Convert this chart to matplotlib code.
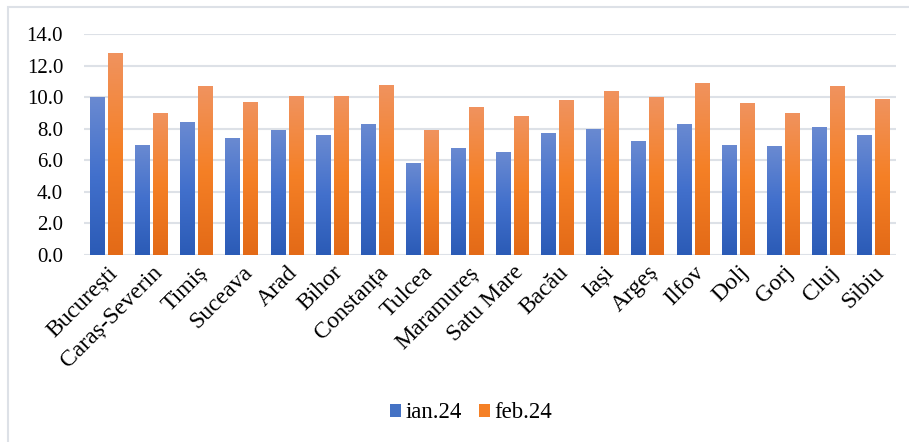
import numpy as np
import matplotlib
matplotlib.use("Agg")
from matplotlib import pyplot as plt
from matplotlib.colors import LinearSegmentedColormap
from matplotlib.patches import Rectangle

counties = ["București", "Caraș-Severin", "Timiș", "Suceava", "Arad", "Bihor",
            "Constanța", "Tulcea", "Maramureș", "Satu Mare", "Bacău", "Iași",
            "Argeș", "Ilfov", "Dolj", "Gorj", "Cluj", "Sibiu"]
ian24 = [10.0, 7.0, 8.4, 7.4, 7.9, 7.6, 8.3, 5.8, 6.8, 6.5, 7.7, 8.0, 7.2, 8.3, 7.0, 6.9, 8.1, 7.6]
feb24 = [12.8, 9.0, 10.7, 9.7, 10.1, 10.1, 10.8, 7.9, 9.4, 8.8, 9.8, 10.4, 10.0, 10.9, 9.6, 9.0, 10.7, 9.9]

plt.rcParams['font.family'] = ['Liberation Serif', 'DejaVu Serif']

blue_cmap = LinearSegmentedColormap.from_list("b", ["#2b5bb6", "#4270cc", "#6a8ad1"])
orange_cmap = LinearSegmentedColormap.from_list("o", ["#e36a17", "#f58026", "#f0935f"])

fig = plt.figure(figsize=(9.09, 4.42), dpi=100)
# chart area border
fig.patches.append(Rectangle((8 / 909, -0.1), 1.2, 1 - 7 / 442 + 0.1, transform=fig.transFigure,
                             fill=False, edgecolor="#dde1e7", linewidth=1.5))
ax = fig.add_axes([84 / 909, 1 - 255 / 442, (896 - 84) / 909, (255 - 34) / 442])

x = np.arange(len(counties))
w = 0.33
b1 = ax.bar(x - 0.2, ian24, w, color="#4472c4", label="ian.24", zorder=2)
b2 = ax.bar(x + 0.2, feb24, w, color="#f58026", label="feb.24", zorder=2)

grad = np.linspace(0, 1, 256).reshape(-1, 1)
for bars, cmap in [(b1, blue_cmap), (b2, orange_cmap)]:
    for r in bars:
        x0, y0 = r.get_x(), r.get_y()
        im = ax.imshow(grad, cmap=cmap, origin="lower", aspect="auto",
                       extent=[x0, x0 + r.get_width(), y0, y0 + r.get_height()], zorder=3)
        im.set_clip_path(r)

ax.set_xlim(-0.5, len(counties) - 0.5)
ax.set_ylim(0, 14)
ax.set_yticks(np.arange(0, 15, 2))
ax.set_yticklabels([f"{v:.1f}" for v in np.arange(0, 15, 2)], fontsize=15)
ax.set_xticks(x)
ax.set_xticklabels(counties, rotation=45, ha="right", rotation_mode="anchor", fontsize=17)
ax.tick_params(axis="y", length=0, pad=15)
ax.tick_params(axis="x", length=0, pad=5)
ax.grid(axis="y", color="#dde1e7", linewidth=1.5, zorder=0)
ax.set_axisbelow(True)
for s in ax.spines.values():
    s.set_visible(False)

ax.legend(loc="center", bbox_to_anchor=(471 / 909, 1 - 413 / 442), bbox_transform=fig.transFigure,
          ncol=2, frameon=False, fontsize=16.5, handlelength=0.48, handleheight=0.48,
          handletextpad=0.2, columnspacing=0.75)

fig.savefig("out.png", dpi=100)
